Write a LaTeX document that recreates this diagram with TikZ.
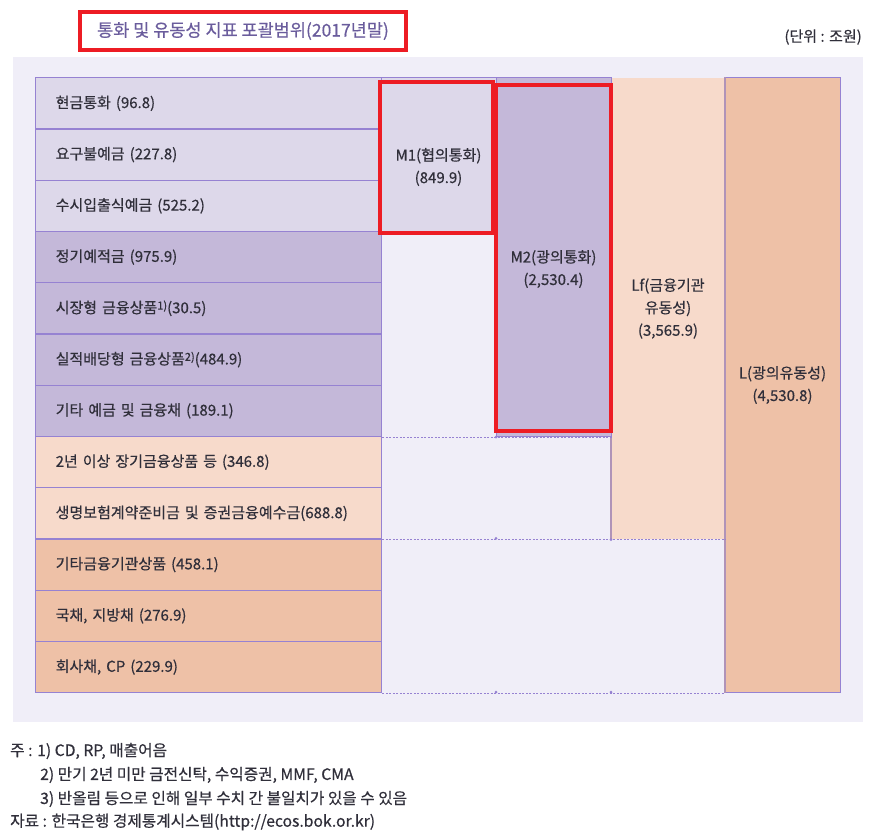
\documentclass[tikz,border=0pt]{standalone}
\usepackage{fontspec}
\setmainfont{Noto Sans CJK KR}[FakeBold=0.5]
\definecolor{panel}{HTML}{F0EEF8}
\definecolor{cA}{HTML}{DDD8EA}
\definecolor{cB}{HTML}{C4B8D9}
\definecolor{cC}{HTML}{F7DACB}
\definecolor{cD}{HTML}{EEC1A7}
\definecolor{boxline}{HTML}{9682D2}
\definecolor{grayline}{HTML}{B093B8}
\definecolor{txt}{HTML}{302F3A}
\definecolor{ttl}{HTML}{6A5C9C}
\definecolor{hl}{HTML}{ED1C24}
\begin{document}
\begin{tikzpicture}[x=1pt,y=-1pt,
  rowbox/.style={draw=boxline, line width=1.4pt, anchor=north west, minimum width=346pt, minimum height=51.25pt, text width=306pt, inner xsep=20pt, inner ysep=0pt, align=left, font=\fontsize{15}{16}\selectfont, text=txt},
  colbox/.style={anchor=north west, minimum width=115pt, inner sep=0pt, line width=1.4pt},
  collabel/.style={align=center, font=\fontsize{15}{22.5}\selectfont, text=txt},
  redbox/.style={draw=hl, line width=4pt, inner sep=0pt},
  dotline/.style={draw=boxline, line width=1.2pt, dash pattern=on 2pt off 1.5pt},
  jdot/.style={fill=boxline, circle, inner sep=0pt, minimum size=3pt},
  note/.style={anchor=west, font=\fontsize{15.7}{17}\selectfont, text=txt, inner sep=0pt}
]
\useasboundingbox (0,0) rectangle (871,839);
% background panel
\fill[panel] (13,57) rectangle (863,722);
% columns
\node[colbox, fill=cD, draw=boxline, minimum height=615pt] (L) at (725,77) {};
\node[colbox, fill=cC, minimum width=114pt, minimum height=461.25pt] (Lf) at (611,77) {};
\draw[grayline, line width=1.4pt] (Lf.north west) -- (Lf.south west);
\draw[grayline, line width=1.4pt] (L.north west) -- (L.south west);
\node[colbox, fill=cB, draw=boxline, minimum height=358.75pt] (M2) at (496,77) {};
\node[colbox, fill=cA, draw=boxline, minimum height=153.75pt] (M1) at (381,77) {};
% rows
\node[rowbox, fill=cA] (r1) at (35,77) {현금통화 (96.8)};
\node[rowbox, fill=cA] (r2) at (35,128.25) {요구불예금 (227.8)};
\node[rowbox, fill=cA] (r3) at (35,179.5) {수시입출식예금 (525.2)};
\node[rowbox, fill=cB] (r4) at (35,230.75) {정기예적금 (975.9)};
\node[rowbox, fill=cB] (r5) at (35,282) {시장형 금융상품\raisebox{0.45ex}{\fontsize{11}{11}\selectfont 1)}(30.5)};
\node[rowbox, fill=cB] (r6) at (35,333.25) {실적배당형 금융상품\raisebox{0.45ex}{\fontsize{11}{11}\selectfont 2)}(484.9)};
\node[rowbox, fill=cB] (r7) at (35,384.5) {기타 예금 및 금융채 (189.1)};
\node[rowbox, fill=cC] (r8) at (35,435.75) {2년 이상 장기금융상품 등 (346.8)};
\node[rowbox, fill=cC] (r9) at (35,487) {생명보험계약준비금 및 증권금융예수금(688.8)};
\node[rowbox, fill=cD] (r10) at (35,538.25) {기타금융기관상품 (458.1)};
\node[rowbox, fill=cD] (r11) at (35,589.5) {국채, 지방채 (276.9)};
\node[rowbox, fill=cD] (r12) at (35,640.75) {회사채, CP (229.9)};
% dotted separators
\draw[dotline] (r7.south east) -- (M2.south east);
\draw[dotline] (r9.south east) -- (Lf.south east);
\draw[dotline] (r12.south east) -- (L.south west);
\node[jdot] (d1) at (M2.south west) {};
\node[jdot] (d2) at (496,538.25) {};
\node[jdot] (d3) at (Lf.south west) {};
\node[jdot] (d4) at (496,692) {};
\node[jdot] (d5) at (611,692) {};
% column labels
\node[collabel] (m1t) at (438.5,167) {M1(협의통화)\\(849.9)};
\node[collabel] (m2t) at (553.5,269) {M2(광의통화)\\(2,530.4)};
\node[collabel] (lft) at (668,308.5) {Lf(금융기관\\유동성)\\(3,565.9)};
\node[collabel] (lt) at (782.5,385) {L(광의유동성)\\(4,530.8)};
% highlight boxes
\node[redbox, minimum width=113pt, minimum height=151pt] (hm1) at (436.5,157.5) {};
\node[redbox, minimum width=115pt, minimum height=346pt] (hm2) at (553.5,258) {};
% title
\node[redbox, minimum width=326pt, minimum height=38pt, font=\fontsize{17.5}{19}\selectfont, text=ttl] (title) at (243,31) {통화 및 유동성 지표 포괄범위(2017년말)};
\node[anchor=east, font=\fontsize{15}{16}\selectfont, text=txt, inner sep=0pt] (unit) at (862,37) {(단위 : 조원)};
% notes
\node[note] (n1) at (10,751) {주 : 1) CD, RP, 매출어음};
\node[note] (n2) at (40,775) {2) 만기 2년 미만 금전신탁, 수익증권, MMF, CMA};
\node[note] (n3) at (40,799) {3) 반올림 등으로 인해 일부 수치 간 불일치가 있을 수 있음};
\node[note] (n4) at (10,822) {자료 : 한국은행 경제통계시스템(http://ecos.bok.or.kr)};
\end{tikzpicture}
\end{document}
